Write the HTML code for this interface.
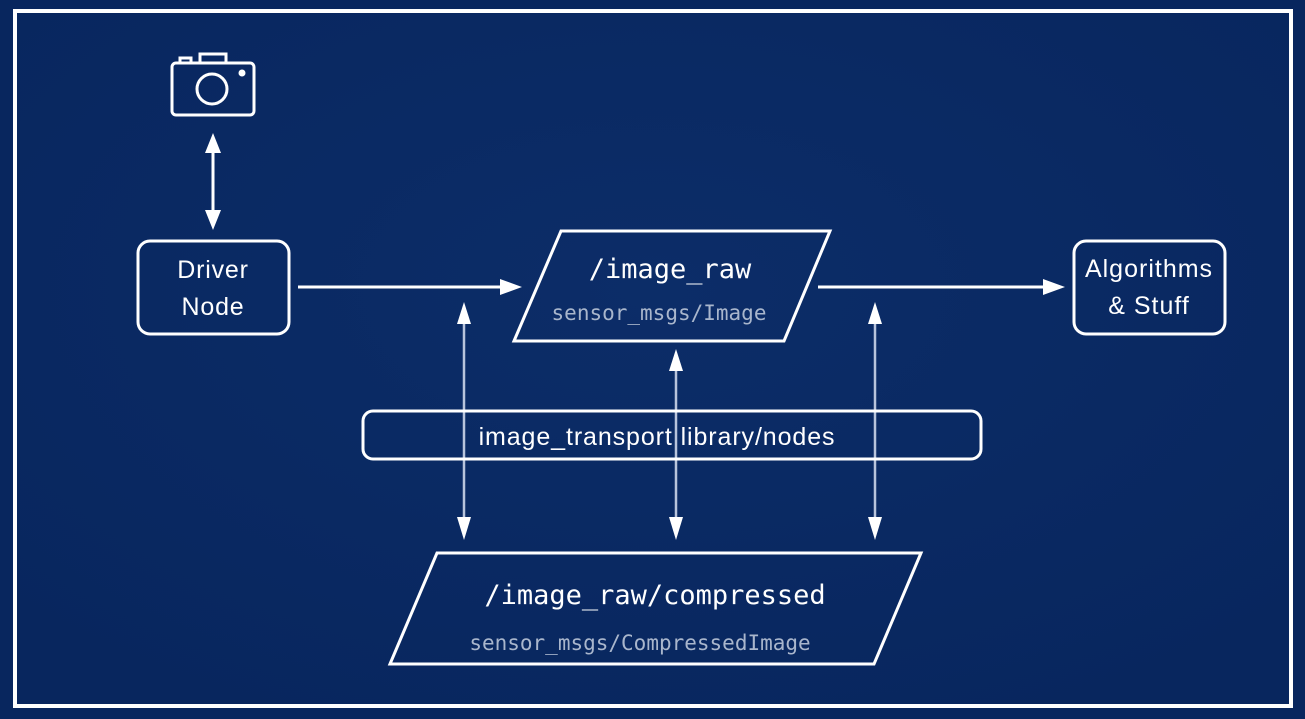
<!DOCTYPE html>
<html><head><meta charset="utf-8"><style>
html,body{margin:0;padding:0;background:#0b2a62;}
svg{display:block}
.s{font-family:"Liberation Sans",sans-serif;fill:#fff}
.m{font-family:"DejaVu Sans Mono","Liberation Mono",monospace}
</style></head><body>
<svg width="1305" height="719" viewBox="0 0 1305 719" xmlns="http://www.w3.org/2000/svg">
<defs>
<radialGradient id="g" cx="0.5" cy="0.4" r="0.7"><stop offset="0" stop-color="#0c2d68"/><stop offset="1" stop-color="#08265e"/></radialGradient>
</defs>
<rect width="1305" height="719" fill="#08265e"/>
<rect x="15" y="11" width="1276" height="695" fill="url(#g)" stroke="#fff" stroke-width="4"/>
<g fill="none" stroke="#fff" stroke-width="3">
<rect x="172" y="63" width="82" height="52" rx="4"/>
<path d="M200 63 V54 H226 V63"/>
<path d="M180 63 V58 H191 V63"/>
<circle cx="212" cy="89" r="15"/>
</g>
<circle cx="242" cy="73" r="3.5" fill="#fff"/>
<line x1="213" y1="145" x2="213" y2="218" stroke="#fff" stroke-width="3"/>
<polygon points="213,133 205,153 221,153" fill="#fff"/>
<polygon points="213,230 205,210 221,210" fill="#fff"/>
<rect x="138" y="241" width="151" height="93" rx="12" fill="none" stroke="#fff" stroke-width="3"/>
<text class="s" x="213" y="278" font-size="25" letter-spacing="0.8" text-anchor="middle">Driver</text>
<text class="s" x="213" y="315" font-size="25" letter-spacing="0.8" text-anchor="middle">Node</text>
<line x1="298" y1="287" x2="505" y2="287" stroke="#fff" stroke-width="3"/>
<polygon points="522,287 500,279 500,295" fill="#fff"/>
<line x1="818" y1="287" x2="1048" y2="287" stroke="#fff" stroke-width="3"/>
<polygon points="1065,287 1043,279 1043,295" fill="#fff"/>
<rect x="1074" y="241" width="151" height="93" rx="12" fill="none" stroke="#fff" stroke-width="3"/>
<text class="s" x="1149" y="277" font-size="25" letter-spacing="1" text-anchor="middle">Algorithms</text>
<text class="s" x="1149" y="314" font-size="25" letter-spacing="1" text-anchor="middle">&amp; Stuff</text>
<polygon points="514,341 561,231 830,231 784,341" fill="none" stroke="#fff" stroke-width="3"/>
<text class="s m" x="670" y="278" font-size="27" text-anchor="middle">/image_raw</text>
<text class="m" x="659" y="320" font-size="21" fill="#a9b6cc" text-anchor="middle">sensor_msgs/Image</text>
<g stroke="#b8c4dc" stroke-width="2.5">
<line x1="464" y1="318" x2="464" y2="525"/>
<line x1="676" y1="365" x2="676" y2="525"/>
<line x1="875" y1="318" x2="875" y2="525"/>
</g>
<g fill="#fff">
<polygon points="464,302 457,324 471,324"/><polygon points="464,540 457,517 471,517"/>
<polygon points="676,349 669,371 683,371"/><polygon points="676,540 669,517 683,517"/>
<polygon points="875,302 868,324 882,324"/><polygon points="875,540 868,517 882,517"/>
</g>
<rect x="363" y="411" width="618" height="48" rx="10" fill="none" stroke="#fff" stroke-width="3"/>
<text class="s" x="657" y="445" font-size="25" letter-spacing="0.9" text-anchor="middle">image_transport library/nodes</text>
<polygon points="390,664 437,553 921,553 874,664" fill="none" stroke="#fff" stroke-width="3"/>
<text class="s m" x="655" y="604" font-size="27" text-anchor="middle">/image_raw/compressed</text>
<text class="m" x="640" y="650" font-size="21" fill="#a9b6cc" text-anchor="middle">sensor_msgs/CompressedImage</text>
</svg>
</body></html>
